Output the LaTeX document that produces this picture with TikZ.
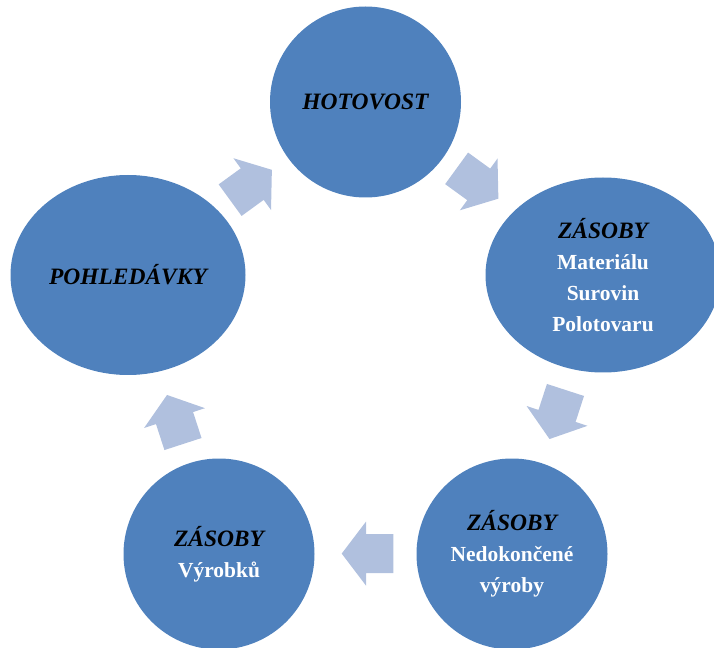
\documentclass[tikz,border=0pt]{standalone}
\usepackage{fontspec}
\setmainfont{Liberation Serif}
\usetikzlibrary{shapes.geometric}

\definecolor{stockblue}{RGB}{79,129,189}
\definecolor{flowblue}{RGB}{176,192,222}

% heading line inside a stage: black bold italic
\newcommand{\stagehead}[1]{{\color{black}\fontsize{17.6}{23.25}\selectfont\itshape #1}}

\tikzset{
  stage/.style={ellipse, fill=stockblue, draw=none, inner sep=0pt, align=center,
    text=white, font=\fontsize{16.1}{23.25}\selectfont\bfseries},
  round stage/.style={stage, minimum width=143.25pt, minimum height=143.25pt},
  wide stage/.style={stage, minimum width=176.25pt, minimum height=#1},
  % block arrow of the cycle, pointing along +x before rotation
  flow/.pic={\fill[flowblue] (-25.8,-19.5) -- (1.5,-19.5) -- (1.5,-32) -- (25.8,0)
    -- (1.5,32) -- (1.5,19.5) -- (-25.8,19.5) -- cycle;}
}

\begin{document}
\begin{tikzpicture}[x=0.75pt, y=0.75pt]
\useasboundingbox (0,0) rectangle (714,647);
\clip (0,0) rectangle (714,647);

% stages of the cash cycle
\node[round stage] (cash) at (365.5,545) {\stagehead{HOTOVOST}};
\node[wide stage=146.25pt] (materials) at (603,372)
  {\stagehead{ZÁSOBY}\\Materiálu\\Surovin\\Polotovaru};
\node[round stage] (wip) at (512,93)
  {\stagehead{ZÁSOBY}\\Nedokončené\\výroby};
\node[round stage] (goods) at (219,93)
  {\stagehead{ZÁSOBY}\\Výrobků};
\node[wide stage=150pt] (receivables) at (128,372)
  {\stagehead{POHLEDÁVKY}};

% arrows between the stages, clockwise
\pic[rotate=-36]  (f1) at (477.5,463.5) {flow};
\pic[rotate=-108] (f2) at (557.5,232.5) {flow};
\pic[rotate=180]  (f3) at (367.5,93.4)  {flow};
\pic[rotate=108]  (f4) at (175,227.5)   {flow};
\pic[rotate=36]   (f5) at (251,462)     {flow};
\end{tikzpicture}
\end{document}
